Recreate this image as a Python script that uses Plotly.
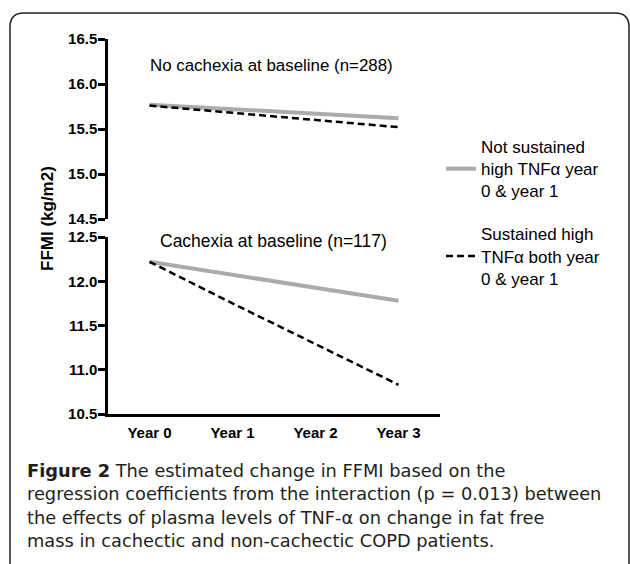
import plotly.graph_objects as go

years = ["Year 0", "Year 1", "Year 2", "Year 3"]
no_cach_not_sustained = [15.77, 15.72, 15.67, 15.62]
no_cach_sustained = [15.76, 15.68, 15.60, 15.52]
cach_not_sustained = [12.22, 12.07, 11.92, 11.78]
cach_sustained = [12.22, 11.75, 11.29, 10.83]
upper_ticks = [14.5, 15.0, 15.5, 16.0, 16.5]
lower_ticks = [10.5, 11.0, 11.5, 12.0, 12.5]
caption_lines = [
    "<b>Figure 2</b> The estimated change in FFMI based on the",
    "regression coefficients from the interaction (p = 0.013) between",
    "the effects of plasma levels of TNF-α on change in fat free",
    "mass in cachectic and non-cachectic COPD patients.",
]

W, H = 630, 564
L, R, T, B = 108, 440, 39, 414
PW, PH = R - L, B - T

def px(x):
    return (x - L) / PW

def py(y):
    return (B - y) / PH

GRAY = "#ababab"
FONT = "Liberation Sans"

fig = go.Figure()
fig.add_trace(go.Scatter(x=years, y=no_cach_not_sustained, mode="lines",
                         line=dict(color=GRAY, width=4), yaxis="y",
                         name="Not sustained<br>high TNFα year<br>0 & year 1",
                         legendgroup="a"))
fig.add_trace(go.Scatter(x=years, y=no_cach_sustained, mode="lines",
                         line=dict(color="black", width=2.5, dash="7px,4px"), yaxis="y",
                         name="Sustained high<br>TNFα both year<br>0 & year 1",
                         legendgroup="b"))
fig.add_trace(go.Scatter(x=years, y=cach_not_sustained, mode="lines",
                         line=dict(color=GRAY, width=4), yaxis="y2",
                         showlegend=False, legendgroup="a"))
fig.add_trace(go.Scatter(x=years, y=cach_sustained, mode="lines",
                         line=dict(color="black", width=2.5, dash="7px,4px"), yaxis="y2",
                         showlegend=False, legendgroup="b"))

axis_common = dict(showline=True, linecolor="black", linewidth=2.5, ticks="outside",
                   ticklen=7, tickwidth=2.5, tickcolor="black", showgrid=False,
                   zeroline=False, tickformat=".1f", ticklabelstandoff=-2,
                   tickfont=dict(family=FONT, size=15, color="black", weight="bold"))

d_up = py(219)
d_lo = py(237)

fig.update_layout(
    width=W, height=H,
    margin=dict(l=L, r=W - R, t=T, b=H - B, pad=0),
    plot_bgcolor="white", paper_bgcolor="white",
    showlegend=True,
    legend=dict(x=px(441), y=py(129), xanchor="left", yanchor="top",
                font=dict(family=FONT, size=17, color="black"),
                tracegroupgap=18, bgcolor="rgba(0,0,0,0)"),
    xaxis=dict(range=[-0.5, 3.5], anchor="y2", showline=True, linecolor="black",
               linewidth=2.5, ticks="", showgrid=False, zeroline=False,
               ticklabelstandoff=3,
               tickfont=dict(family=FONT, size=15, color="black", weight="bold")),
    yaxis=dict(domain=[d_up, 1], range=[14.5, 16.5], tickvals=upper_ticks,
               anchor="x", **axis_common),
    yaxis2=dict(domain=[0, d_lo], range=[10.5, 12.5], tickvals=lower_ticks,
                anchor="x", **axis_common),
)

fig.add_annotation(x=0, y=16.21, xref="x", yref="y", xanchor="left", yanchor="middle",
                   xshift=-2, text="No cachexia at baseline (n=288)", showarrow=False,
                   font=dict(family=FONT, size=16.9, color="black"))
fig.add_annotation(x=0.1, y=12.455, xref="x", yref="y2", xanchor="left", yanchor="middle",
                   text="Cachexia at baseline (n=117)", showarrow=False,
                   font=dict(family=FONT, size=17.5, color="black"))
fig.add_annotation(x=px(47), y=py(219), xref="paper", yref="paper", xanchor="center",
                   yanchor="middle", textangle=-90, text="<b>FFMI (kg/m2)</b>",
                   showarrow=False, font=dict(family=FONT, size=17, color="black"))

for i, line in enumerate(caption_lines):
    fig.add_annotation(x=px(25), y=py(470.5 + 23.4 * i), xref="paper", yref="paper",
                       xanchor="left", yanchor="middle", align="left", text=line,
                       showarrow=False,
                       font=dict(family="DejaVu Sans", size=17.8, color="#231f20"))

# rounded frame
x0, y0, x1, y1, r = px(10), py(13), px(629), py(600), 14
rx, ry = r / PW, r / PH
path = (f"M {x0},{y1} L {x0},{y0 - ry} Q {x0},{y0} {x0 + rx},{y0} "
        f"L {x1 - rx},{y0} Q {x1},{y0} {x1},{y0 - ry} L {x1},{y1}")
fig.add_shape(type="path", path=path, xref="paper", yref="paper",
              line=dict(color="#222222", width=1.5))

fig.write_html("out.html", config={"displayModeBar": False},
               post_script="document.body.style.margin='0';")
